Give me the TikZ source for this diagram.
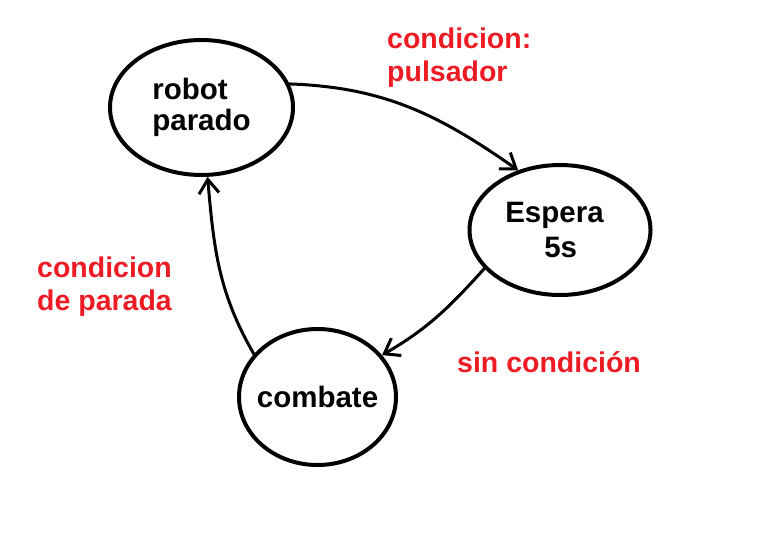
\documentclass[tikz,border=0pt]{standalone}
\usepackage{fontspec}
\setmainfont{Liberation Sans}
\usetikzlibrary{arrows.meta,shapes.geometric}
\definecolor{rojo}{RGB}{237,28,36}
\begin{document}
\begin{tikzpicture}[x=1pt,y=1pt,>={Straight Barb[length=14pt,width=20pt]},line join=round,line cap=round,
    estado/.style={draw,ellipse,line width=4pt,inner xsep=-10pt,inner ysep=0pt,font=\fontsize{29.5}{31}\selectfont\bfseries,align=left},
    flecha/.style={->,line width=3pt},
    etiqueta/.style={text=rojo,font=\fontsize{28.5}{33}\selectfont\bfseries,align=left,inner sep=0pt}]
    \useasboundingbox (0,0) rectangle (759,542);
    % estados
    \node[estado,minimum width=183pt,minimum height=135pt] (robot) at (201.5,434.5) {robot\\parado};
    \node[estado,minimum width=181pt,minimum height=130pt] (espera) at (560,312) {Espera\hspace*{11pt}\\[4pt]\hspace*{39pt}5s};
    \node[estado,minimum width=157pt,minimum height=136pt] (combate) at (317.5,145) {combate};
    % condiciones (base = ultima linea)
    \node[etiqueta,anchor=base west] (pulsador) at (387,460) {condicion:\\pulsador};
    \node[etiqueta,anchor=base west] (parada) at (37,232) {condicion\\de parada};
    \node[etiqueta,anchor=base west] (sin) at (457,170) {sin condición};
    % transiciones
    \draw[flecha] (robot.15) to[out=-2,in=145] (espera.125);
    \draw[flecha] (espera.207) to[out=228,in=30] (combate.33);
    \draw[flecha] (combate.146) to[out=120,in=-85] (robot.275);
\end{tikzpicture}
\end{document}
